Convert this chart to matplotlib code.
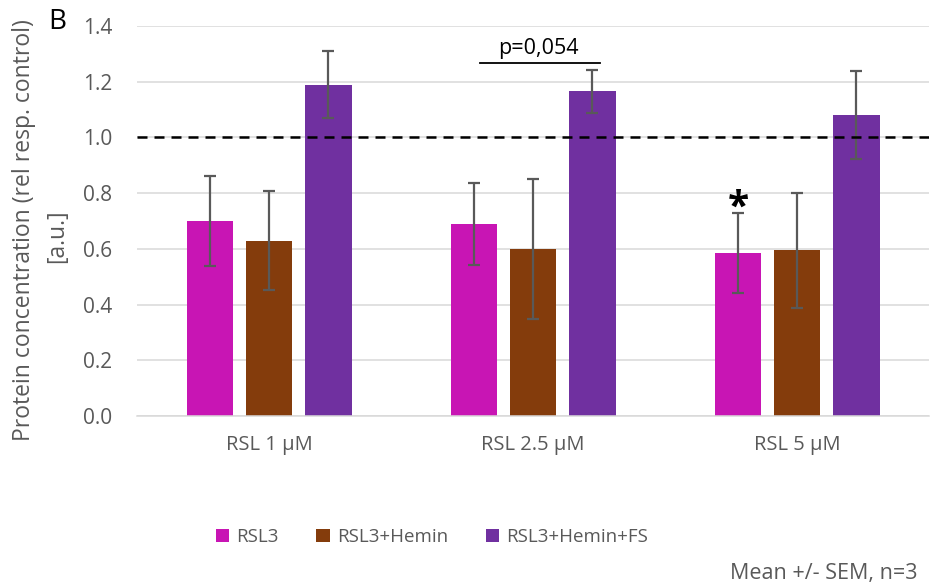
import numpy as np
import matplotlib.pyplot as plt

plt.rcParams['font.family'] = ['Open Sans', 'DejaVu Sans']

# Data
categories = ['RSL 1 \u00b5M', 'RSL 2.5 \u00b5M', 'RSL 5 \u00b5M']
series = ['RSL3', 'RSL3+Hemin', 'RSL3+Hemin+FS']
means = {
    'RSL3': [0.70, 0.69, 0.585],
    'RSL3+Hemin': [0.63, 0.60, 0.595],
    'RSL3+Hemin+FS': [1.19, 1.165, 1.08],
}
sems = {
    'RSL3': [0.16, 0.147, 0.142],
    'RSL3+Hemin': [0.178, 0.25, 0.207],
    'RSL3+Hemin+FS': [0.12, 0.076, 0.158],
}
colors = ['#C815B4', '#843C0C', '#7030A0']
y_ticks = [0.0, 0.2, 0.4, 0.6, 0.8, 1.0, 1.2, 1.4]

W, H = 931, 587
fig = plt.figure(figsize=(W / 100, H / 100), dpi=100)
ax = fig.add_axes([137 / W, (H - 416) / H, (929 - 137) / W, (416 - 26) / H])

x = np.arange(len(categories))
bw = 0.178
step = 0.2235
handles = []
for i, name in enumerate(series):
    pos = x + (i - 1) * step
    b = ax.bar(pos, means[name], bw, color=colors[i], zorder=2, label=name)
    handles.append(b)
    ax.errorbar(pos, means[name], yerr=sems[name], fmt='none', ecolor='#595959',
                elinewidth=1.6, capsize=4.3, capthick=1.6, zorder=3)

# reference line at 1.0
ax.axhline(1.0, color='black', lw=1.8, linestyle=(0, (4, 2.8)), zorder=4)

ax.set_xlim(-0.5, 2.5)
ax.set_ylim(0, 1.4)
ax.set_yticks(y_ticks)
ax.set_yticklabels([f'{t:.1f}' for t in y_ticks])
ax.set_xticks(x)
ax.set_xticklabels(categories)
ax.tick_params(axis='both', length=0, colors='#595959')
ax.tick_params(axis='x', pad=14, labelsize=14.5)
ax.tick_params(axis='y', pad=18, labelsize=15)
ax.grid(axis='y', color='#D9D9D9', lw=1.1, zorder=0)
ax.set_axisbelow(True)
for s in ['top', 'right', 'left']:
    ax.spines[s].set_visible(False)
ax.spines['bottom'].set_color('#D9D9D9')
ax.spines['bottom'].set_linewidth(1.1)

# significance annotations
ax.plot([x[1] - 0.2, x[1] + 0.255], [1.267, 1.267], color='black', lw=1.3, clip_on=False)
ax.text(x[1] + 0.02, 1.28, 'p=0,054', ha='center', va='bottom', fontsize=15.5, color='black')
ax.text(x[2] - step, 0.676, '*', ha='center', va='bottom', fontsize=28,
        fontweight='bold', color='black')

# axis title (two centred lines)
fig.text(24 / W, 1 - 230 / H, 'Protein concentration (rel resp. control)', rotation=90,
         ha='center', va='center', fontsize=16.5, color='#595959')
fig.text(57 / W, 1 - 236 / H, '[a.u.]', rotation=90, ha='center', va='center',
         fontsize=16.5, color='#595959')

fig.text(57 / W, 1 - 22 / H, 'B', ha='center', va='center', fontsize=20, color='black')

fig.legend(handles=handles, labels=series, loc='center', bbox_to_anchor=(432 / W, 1 - 537 / H),
           ncol=3, frameon=False, fontsize=13.5, handlelength=0.7, handleheight=0.7,
           handletextpad=0.4, columnspacing=2.0, labelcolor='#595959')

fig.text(918 / W, 1 - 573 / H, 'Mean +/- SEM, n=3', ha='right', va='center',
         fontsize=15.5, color='#595959')

fig.savefig('out.png', dpi=100)
